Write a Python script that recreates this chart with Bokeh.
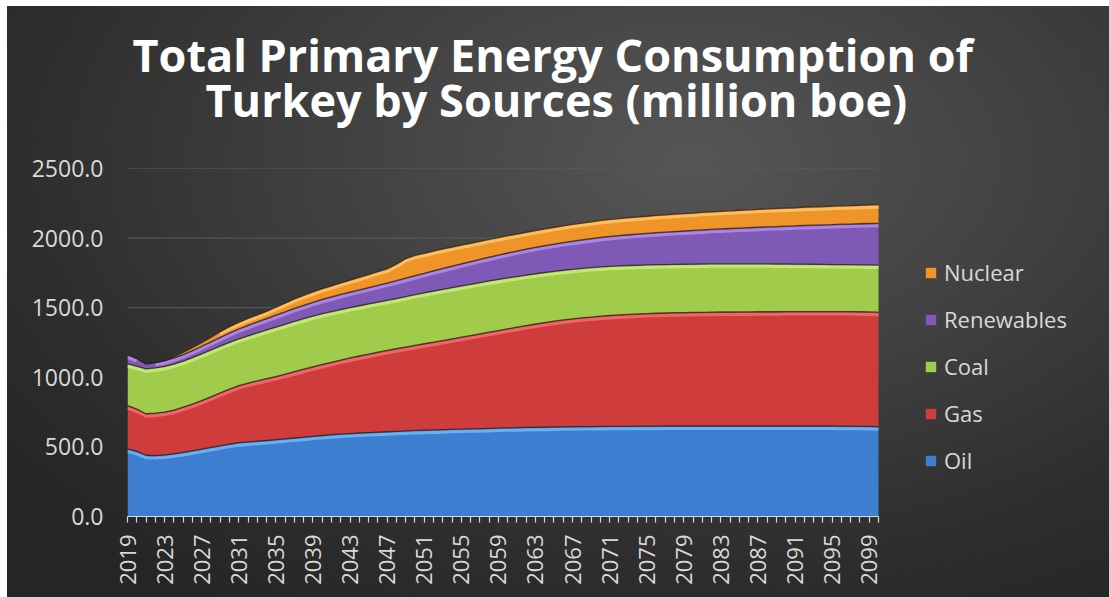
import numpy as np
from bokeh.plotting import figure
from bokeh.models import (ColumnDataSource, FixedTicker, NumeralTickFormatter,
                          Legend, LegendItem, Title)
from bokeh.embed import file_html
from bokeh.resources import INLINE

# ---------------- data (million boe) ----------------
years = list(range(2019, 2101))

oil = [486, 468, 440, 438, 442, 450, 460, 472, 484, 496,
       508, 520, 530, 536, 541, 546, 552, 558, 564, 570,
       576, 582, 588, 592, 596, 600, 603, 606, 609, 612,
       615, 618, 620, 622, 624, 626, 628, 630, 631, 633,
       635, 637, 638, 640, 641, 642, 643, 644, 645, 646,
       646, 647, 648, 648, 648, 649, 649, 649, 650, 650,
       650, 650, 650, 650, 650, 650, 650, 650, 650, 650,
       650, 650, 650, 650, 650, 650, 650, 649, 649, 648,
       647, 645]

gas = [311, 304, 298, 304, 308, 315, 325, 336, 349, 364,
       380, 395, 410, 422, 434, 444, 453, 464, 476, 488,
       499, 510, 520, 532, 543, 553, 563, 574, 584, 593,
       602, 611, 621, 630, 640, 650, 660, 670, 681, 691,
       701, 711, 722, 732, 742, 751, 760, 768, 775, 781,
       787, 792, 796, 800, 804, 806, 809, 811, 812, 814,
       815, 816, 817, 818, 819, 819, 820, 820, 821, 821,
       821, 822, 822, 822, 822, 822, 822, 823, 823, 823,
       823, 823]

coal = [300, 308, 323, 326, 328, 330, 331, 333, 335, 336,
        336, 336, 336, 340, 344, 350, 355, 359, 362, 363,
        365, 365, 364, 363, 362, 361, 361, 360, 360, 361,
        363, 365, 366, 368, 368, 368, 368, 368, 368, 368,
        367, 366, 364, 362, 361, 360, 358, 357, 356, 355,
        355, 354, 353, 352, 351, 350, 349, 349, 348, 347,
        347, 347, 347, 347, 346, 346, 345, 345, 344, 344,
        343, 342, 341, 341, 340, 339, 338, 338, 337, 337,
        337, 338]

renewables = [65, 55, 35, 38, 41, 44, 47, 51, 55, 59,
              63, 67, 71, 75, 79, 82, 86, 89, 93, 96,
              99, 102, 105, 108, 111, 114, 117, 121, 124, 128,
              132, 136, 140, 145, 150, 154, 159, 163, 167, 171,
              175, 179, 183, 187, 190, 193, 196, 199, 202, 205,
              208, 212, 215, 218, 221, 224, 227, 230, 233, 236,
              239, 242, 245, 248, 251, 254, 257, 260, 263, 266,
              269, 272, 275, 278, 281, 284, 287, 290, 292, 295,
              298, 300]

nuclear = [0, 0, 0, 0, 0, 8, 15, 20, 25, 32,
           40, 46, 48, 50, 50, 52, 58, 63, 68, 72,
           75, 78, 80, 83, 86, 90, 94, 98, 102, 118,
           140, 146, 144, 142, 140, 138, 135, 132, 130, 128,
           126, 124, 122, 121, 120, 120, 120, 120, 121, 121,
           121, 122, 122, 122, 123, 123, 123, 124, 124, 125,
           125, 125, 126, 126, 127, 127, 128, 128, 129, 129,
           130, 130, 130, 131, 131, 131, 132, 132, 132, 133,
           133, 134]

series_names = ["Oil", "Gas", "Coal", "Renewables", "Nuclear"]
y_ticks = [0, 500, 1000, 1500, 2000, 2500]
x_label_years = years[::4]          # 2019, 2023, ... 2099
title_line1 = "Total Primary Energy Consumption of"
title_line2 = "Turkey by Sources (million boe)"

# ---------------- layout geometry (pixels) ----------------
W, H = 1109, 597
F_LEFT, F_TOP, F_BOTTOM = 127, 168, 516
AREA_RIGHT = 878                      # where the last year sits
frame_w = W - F_LEFT
x_end = years[0] + (years[-1] - years[0]) * frame_w / (AREA_RIGHT - F_LEFT)

# ---------------- styling ----------------
fills = ["#3d7ed0", "#cf3c3c", "#a0cb4b", "#7e59b6", "#ef9429"]
highlights = ["#70b8f6", "#f26e6e", "#c9ec7d", "#b38de6", "#ffc566"]
label_col = "#d9d9d9"
FONT = "Open Sans"

src = ColumnDataSource(dict(year=years, Oil=oil, Gas=gas, Coal=coal,
                            Renewables=renewables, Nuclear=nuclear))

p = figure(width=W, height=H, output_backend="svg", toolbar_location=None,
           x_range=(years[0], x_end), y_range=(0, 2500),
           min_border_left=F_LEFT, min_border_right=0,
           min_border_top=F_TOP, min_border_bottom=H - F_BOTTOM)

p.styles = {"background": "radial-gradient(ellipse 80% 90% at 62% 26%, #565656 0%, "
                          "#424242 38%, #2e2e2e 75%, #252525 100%) 7px 6px / 1102px 591px "
                          "no-repeat, #ffffff"}
p.border_fill_color = None
p.background_fill_color = None
p.outline_line_color = None

# title: spacer + two lines, stacked outward from the frame
p.title.text = ""
p.add_layout(Title(text=" ", text_font_size="10px", standoff=26), "above")
for txt, off_x, sto in [(title_line2, 78, 0), (title_line1, 5, -36)]:
    p.add_layout(Title(text=txt, align="left", offset=off_x, standoff=sto,
                       text_font=FONT, text_font_style="bold",
                       text_font_size="45px", text_color="#ffffff"), "above")

# horizontal grid lines limited to the plotted years
p.segment(x0=[years[0]] * len(y_ticks), x1=[years[-1]] * len(y_ticks),
          y0=y_ticks, y1=y_ticks, line_color="#5c5c5c", line_width=1)

# stacked areas
rs = p.varea_stack(stackers=series_names, x="year", color=fills, source=src)

# bevel-like edges on each band top
px_per_unit = (F_BOTTOM - F_TOP) / 2500.0
off = 2.5 / px_per_unit
stack = np.zeros(len(years))
vals = [oil, gas, coal, renewables, nuclear]
tops = []
for v, hl in zip(vals, highlights):
    v = np.array(v, dtype=float)
    lower = stack.copy()
    stack = stack + v
    hl_y = np.maximum(stack - off, lower)
    hl_y = np.where(v > 2 * off, hl_y, np.nan)
    p.line(years, hl_y, line_color=hl, line_width=3, line_alpha=0.85)
    tops.append(stack.copy())
for t in tops:
    p.line(years, t, line_color="#2a2020", line_width=1.3, line_alpha=0.75)

# axes
xa = p.xaxis[0]
xa.bounds = (years[0], years[-1])
xa.ticker = FixedTicker(ticks=years)
xa.major_label_overrides = {yr: (str(yr) if yr in x_label_years else "") for yr in years}
xa.major_label_orientation = np.pi / 2
xa.major_label_text_font = FONT
xa.major_label_text_font_size = "22px"
xa.major_label_text_color = label_col
xa.axis_line_color = label_col
xa.axis_line_width = 1.2
xa.major_tick_line_color = label_col
xa.major_tick_line_width = 1.2
xa.major_tick_out = 6
xa.major_tick_in = 0
xa.minor_tick_line_color = None
xa.major_label_standoff = 12

ya = p.yaxis[0]
ya.ticker = FixedTicker(ticks=y_ticks)
ya.formatter = NumeralTickFormatter(format="0.0")
ya.major_label_text_font = FONT
ya.major_label_text_font_size = "23px"
ya.major_label_text_color = label_col
ya.axis_line_color = None
ya.major_tick_line_color = None
ya.minor_tick_line_color = None
ya.major_label_standoff = 18

p.xgrid.grid_line_color = None
p.ygrid.grid_line_color = None

# legend (Nuclear on top)
items = [LegendItem(label=n, renderers=[r]) for n, r in zip(series_names, rs)][::-1]
legend = Legend(items=items, location=(924 - F_LEFT, 41))
legend.label_text_font = FONT
legend.label_text_font_size = "22px"
legend.label_text_color = label_col
legend.glyph_width = 13
legend.glyph_height = 13
legend.label_height = 27
legend.spacing = 17
legend.padding = 0
legend.margin = 0
legend.label_standoff = 7
legend.border_line_color = None
legend.background_fill_alpha = 0
p.add_layout(legend)

open("out.html", "w").write(file_html(p, INLINE))
